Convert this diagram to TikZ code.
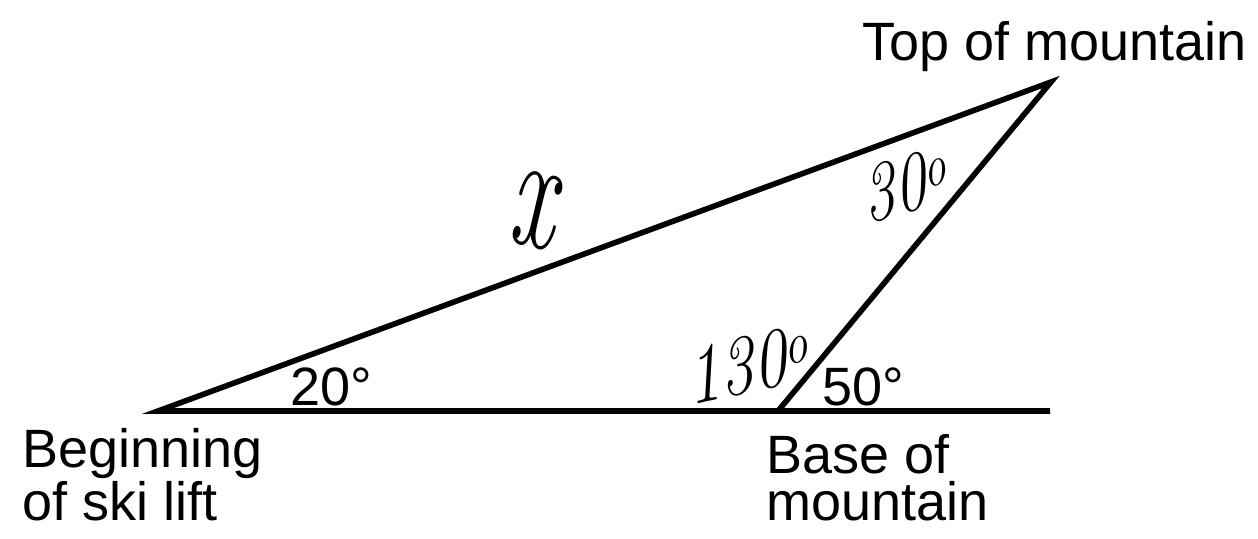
\documentclass[tikz,border=0pt]{standalone}
\usepackage{fontspec}
\newfontfamily\labelfont{Liberation Sans}
\begin{document}
\begin{tikzpicture}[x=0.5pt,y=-0.5pt,
  edge/.style={line width=2.8pt, line join=miter},
  lab/.style={inner sep=0pt, font=\labelfont\fontsize{27}{23.5}\selectfont},
  hand/.style={inner sep=0pt, font=\itshape\fontsize{42}{42}\selectfont}]
\useasboundingbox (0,0) rectangle (1258,538);
\coordinate (A) at (158,411);
\coordinate (B) at (778,411);
\coordinate (C) at (1051,82);
\coordinate (E) at (1050,411);
\draw[edge] (E) -- (A) -- (C) -- (B);
\node[lab, anchor=base west] (top) at (862,60) {Top of mountain};
\node[lab, anchor=base west, align=left] (beg) at (22,520) {Beginning\\of ski lift};
\node[lab, anchor=base west, align=left] (base) at (766,520) {Base of\\mountain};
\node[lab, anchor=base west] (a20) at (290,405) {20°};
\node[lab, anchor=base west] (a50) at (822,405) {50°};
\node[hand, yscale=1.7, rotate=-8] (xl) at (533,210) {\fontsize{50}{50}\selectfont x};
\node[hand, xscale=0.75, rotate=12] (a30) at (905,185) {30\textsuperscript{o}};
\node[hand, xscale=0.8, rotate=10] (a130) at (748,365) {130\textsuperscript{o}};
\end{tikzpicture}
\end{document}
